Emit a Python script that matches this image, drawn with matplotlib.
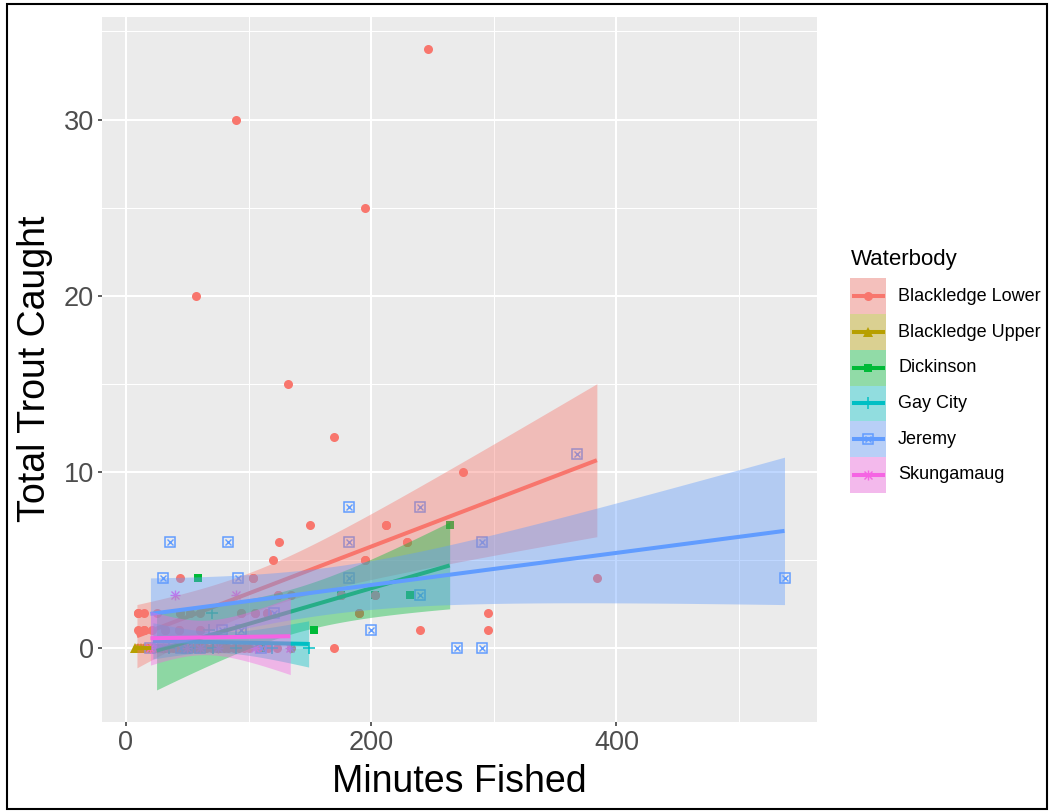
import numpy as np
import matplotlib.pyplot as plt
from matplotlib.patches import Rectangle
from matplotlib.lines import Line2D

plt.rcParams['font.family'] = ['Liberation Sans', 'DejaVu Sans']

waterbodies = ['Blackledge Lower', 'Blackledge Upper', 'Dickinson',
               'Gay City', 'Jeremy', 'Skungamaug']
colors = ['#F8766D', '#B79F00', '#00BA38', '#00BFC4', '#619CFF', '#F564E3']

# Blackledge Lower (many points overlap in the low rows)
bl_lower_min = [57, 90, 132, 170, 195, 246, 275,
                150, 212, 125, 229, 120, 195, 44, 104, 384,
                124, 135, 175, 203,
                10, 15, 25, 44, 52, 60, 94, 105, 115, 190, 295,
                10, 15, 21, 32, 43, 60, 240, 295,
                9, 26, 32, 43, 49, 55, 65, 77, 83, 88, 100, 116, 123, 170,
                11, 13, 16, 19, 22, 29, 35, 38, 41, 46, 52, 58, 62, 70,
                74, 80, 92, 96, 108, 135,
                229, 212, 195, 124, 104, 175, 203, 190,
                44, 52, 94, 105, 115, 32, 43, 60, 15, 10]
bl_lower_trout = [20, 30, 15, 12, 25, 34, 10,
                  7, 7, 6, 6, 5, 5, 4, 4, 4,
                  3, 3, 3, 3,
                  2, 2, 2, 2, 2, 2, 2, 2, 2, 2, 2,
                  1, 1, 1, 1, 1, 1, 1, 1,
                  0, 0, 0, 0, 0, 0, 0, 0, 0, 0, 0, 0, 0, 0,
                  0, 0, 0, 0, 0, 0, 0, 0, 0, 0, 0, 0, 0, 0,
                  0, 0, 0, 0, 0, 0,
                  6, 7, 5, 3, 4, 3, 3, 2,
                  2, 2, 2, 2, 2, 1, 1, 1, 1, 2]

# Blackledge Upper
bl_upper_min = [7, 10, 12, 15, 18, 21]
bl_upper_trout = [0, 0, 0, 0, 0, 0]

# Dickinson
dickinson_min = [25, 59, 60, 80, 110, 153, 175, 203, 232, 264]
dickinson_trout = [0, 4, 0, 0, 0, 1, 3, 3, 3, 7]

# Gay City
gay_city_min = [22, 35, 52, 68, 70, 71, 90, 119, 149]
gay_city_trout = [0, 0, 0, 1, 2, 0, 0, 0, 0]

# Jeremy
jeremy_min = [20, 30, 36, 45, 50, 60, 78, 83, 91, 94, 110, 121, 182, 182, 182,
              200, 240, 240, 270, 290, 290, 368, 537]
jeremy_trout = [0, 4, 6, 0, 0, 0, 1, 6, 4, 1, 0, 2, 8, 6, 4,
                1, 8, 3, 0, 6, 0, 11, 4]

# Skungamaug
skungamaug_min = [20, 25, 30, 40, 50, 60, 75, 90, 105, 134]
skungamaug_trout = [0, 0, 0, 3, 0, 0, 0, 3, 0, 0]

minutes = [bl_lower_min, bl_upper_min, dickinson_min,
           gay_city_min, jeremy_min, skungamaug_min]
trout = [bl_lower_trout, bl_upper_trout, dickinson_trout,
         gay_city_trout, jeremy_trout, skungamaug_trout]

# order the points were plotted in (data row order)
point_order = [2, 0, 1, 3, 4, 5]


def t975(df):
    # Cornish-Fisher approximation of the 97.5% t quantile
    z = 1.959964
    g1 = (z**3 + z) / 4
    g2 = (5*z**5 + 16*z**3 + 3*z) / 96
    g3 = (3*z**7 + 19*z**5 + 17*z**3 - 15*z) / 384
    g4 = (79*z**9 + 776*z**7 + 1482*z**5 - 1920*z**3 - 945*z) / 92160
    return z + g1/df + g2/df**2 + g3/df**3 + g4/df**4


def lm_band(x, y, n=80):
    # same as geom_smooth(method = "lm"): fit plus 95% confidence band
    x = np.asarray(x, float)
    y = np.asarray(y, float)
    xs = np.linspace(x.min(), x.max(), n)
    b, a = np.polyfit(x, y, 1)
    fit = a + b * xs
    df = len(x) - 2
    s = np.sqrt(((y - (a + b * x))**2).sum() / df)
    sxx = ((x - x.mean())**2).sum()
    se = s * np.sqrt(1 / len(x) + (xs - x.mean())**2 / sxx)
    t = t975(df)
    return xs, fit, fit - t * se, fit + t * se


def draw_marker(target, i, x, y, size, **kw):
    # ggplot shapes 16, 17, 15, 3, 7, 8
    c = colors[i]
    if i == 0:
        target(x, y, marker='o', color=c, ms=size, ls='none', mew=0, **kw)
    elif i == 1:
        target(x, y, marker='^', color=c, ms=size, ls='none', mew=0, **kw)
    elif i == 2:
        target(x, y, marker='s', color=c, ms=size * 0.9, ls='none', mew=0, **kw)
    elif i == 3:
        target(x, y, marker='+', color=c, ms=size * 1.3, ls='none', mew=1.1, **kw)
    elif i == 4:
        target(x, y, marker='s', mfc='none', mec=c, ms=size, ls='none', mew=1.1, **kw)
        target(x, y, marker='x', color=c, ms=size * 0.75, ls='none', mew=1.0, **kw)
    else:
        target(x, y, marker='+', color=c, ms=size * 1.2, ls='none', mew=1.0, **kw)
        target(x, y, marker='x', color=c, ms=size * 0.9, ls='none', mew=1.0, **kw)


W, H = 1050, 811
fig = plt.figure(figsize=(W / 100, H / 100), dpi=100)
ax = fig.add_axes([102 / W, 1 - 722 / H, (817 - 102) / W, (722 - 17) / H])
ax.set_facecolor('#EBEBEB')
for s in ax.spines.values():
    s.set_visible(False)

bands = [lm_band(x, y) for x, y in zip(minutes, trout)]

# points first, smooths on top
for k, i in enumerate(point_order):
    draw_marker(ax.plot, i, minutes[i], trout[i], 6.5, zorder=2 + k * 0.1)

for i, (xs, fit, lo, hi) in enumerate(bands):
    ax.fill_between(xs, lo, hi, color=colors[i], alpha=0.4, lw=0, zorder=3 + 2 * i)
    ax.plot(xs, fit, color=colors[i], lw=2.9, zorder=4 + 2 * i,
            solid_capstyle='butt')

# ggplot-like limits with 5% expansion
all_x = np.concatenate([np.asarray(m, float) for m in minutes])
all_y = np.concatenate([np.asarray(t, float) for t in trout] +
                       [b[2] for b in bands] + [b[3] for b in bands])
xr = all_x.max() - all_x.min()
yr = all_y.max() - all_y.min()
ax.set_xlim(all_x.min() - 0.05 * xr, all_x.max() + 0.05 * xr)
ax.set_ylim(all_y.min() - 0.05 * yr, all_y.max() + 0.05 * yr)

ax.set_xticks([0, 200, 400])
ax.set_xticks([100, 300, 500], minor=True)
ax.set_yticks([0, 10, 20, 30])
ax.set_yticks([5, 15, 25, 35], minor=True)
ax.grid(which='major', color='white', lw=1.5, zorder=0)
ax.grid(which='minor', color='white', lw=0.75, zorder=0)
ax.set_axisbelow(True)
ax.tick_params(which='major', length=3, width=1.1, color='#333333',
               labelsize=19.5, labelcolor='#4D4D4D', pad=3)
ax.tick_params(which='minor', length=0)

fig.text(459.5 / W, 1 - 782 / H, 'Minutes Fished', ha='center', va='center',
         fontsize=27)
fig.text(35 / W, 1 - 369 / H, 'Total Trout Caught', ha='center', va='center',
         rotation=90, fontsize=27)

# legend
fig.text(851 / W, 1 - 259 / H, 'Waterbody', ha='left', va='center', fontsize=16)
key_top, key_h = 278.5, 35.7
for i, name in enumerate(waterbodies):
    top = key_top + i * key_h
    cy = 1 - (top + key_h / 2) / H
    fig.patches.append(Rectangle((850 / W, 1 - (top + key_h) / H), 36 / W, key_h / H,
                                 transform=fig.transFigure, facecolor='#F2F2F2',
                                 edgecolor='none'))
    fig.patches.append(Rectangle((850 / W, 1 - (top + key_h) / H), 36 / W, key_h / H,
                                 transform=fig.transFigure, facecolor=colors[i],
                                 alpha=0.4, edgecolor='none'))
    fig.lines.append(Line2D([854 / W, 883 / W], [cy, cy], transform=fig.transFigure,
                            color=colors[i], lw=2.9))

    def add_line(x, y, **kw):
        fig.lines.append(Line2D(x, y, transform=fig.transFigure, **kw))
    draw_marker(add_line, i, [868 / W], [cy], 6.5)
    fig.text(898 / W, cy, name, ha='left', va='center', fontsize=13)

# screenshot frame
fig.patches.append(Rectangle((7 / W, 1 - 809 / H), 1040 / W, 805 / H,
                             transform=fig.transFigure, fill=False,
                             edgecolor='black', lw=1.5))

fig.savefig('out.png', dpi=100)
